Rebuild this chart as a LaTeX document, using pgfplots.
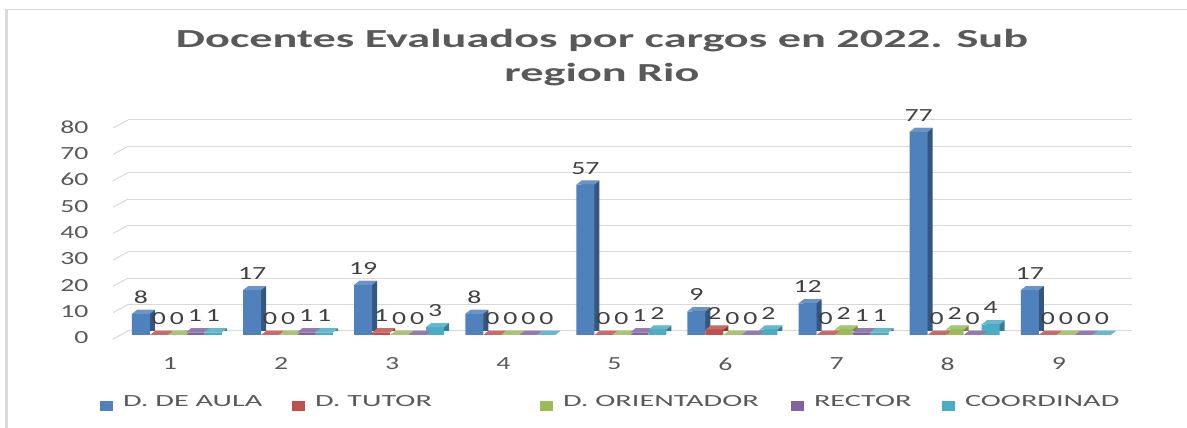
\documentclass[border=0pt]{standalone}
\usepackage{pgfplots}
\pgfplotsset{compat=1.18}
\usepackage{pgfplotstable}
\usepackage{fontspec}
\setmainfont{Carlito}[FakeStretch=1.5]
\newfontfamily\titlefont{Carlito}[FakeStretch=1.78]
\definecolor{cA}{HTML}{4F81BD}
\definecolor{cB}{HTML}{C0504D}
\definecolor{cC}{HTML}{9BBB59}
\definecolor{cD}{HTML}{8064A2}
\definecolor{cE}{HTML}{4BACC6}
\definecolor{dA}{HTML}{34567F}
\definecolor{dB}{HTML}{8C3836}
\definecolor{dC}{HTML}{71893F}
\definecolor{dD}{HTML}{5C4776}
\definecolor{dE}{HTML}{357D91}
\definecolor{txt}{HTML}{595959}
\definecolor{lab}{HTML}{404040}
\definecolor{gridc}{HTML}{D9D9D9}

\pgfdeclareplotmark{topface}{%
  \pgfpathmoveto{\pgfpoint{-9pt}{0pt}}%
  \pgfpathlineto{\pgfpoint{9pt}{0pt}}%
  \pgfpathlineto{\pgfpoint{14pt}{4pt}}%
  \pgfpathlineto{\pgfpoint{-4pt}{4pt}}%
  \pgfpathclose
  \pgfusepathqfill}

\pgfplotstableread{
x a b c d e
1 8 0 0 1 1
2 17 0 0 1 1
3 19 1 0 0 3
4 8 0 0 0 0
5 57 0 0 1 2
6 9 2 0 0 2
7 12 0 2 1 1
8 77 0 2 0 4
9 17 0 0 0 0
}\data

\begin{document}
\begin{tikzpicture}[x=1pt,y=1pt]
\useasboundingbox (0,0) rectangle (1187,428);
\fill[gridc] (5,0) rectangle (8,419);
\draw[gridc, line width=1pt] (5,418.5) -- (1187,418.5);
\node[anchor=base, font=\titlefont\fontsize{26}{30}\selectfont\bfseries, text=txt] at (602,380) {Docentes Evaluados por cargos en 2022. Sub};
\node[anchor=base, font=\titlefont\fontsize{26}{30}\selectfont\bfseries, text=txt] at (602,346) {region Rio};
\begin{axis}[
  at={(128pt,97pt)}, anchor=south west, scale only axis,
  width=1004pt, height=211pt,
  xmin=0.559, xmax=9.596, ymin=0, ymax=80,
  axis line style={draw=none},
  major tick length=0pt,
  xtick={1,...,9}, ytick={0,10,...,80},
  ymajorgrids, grid style={gridc, line width=1pt},
  /pgf/number format/assume math mode=true,
  ticklabel style={font=\fontsize{18.5}{20}\selectfont, text=txt},
  yticklabel style={xshift=-36pt, yshift=-7pt},
  xticklabel style={xshift=-7pt, yshift=-23pt},
  ybar, bar width=18pt,
  clip=false,
  every node near coord/.append style={font=\fontsize{18.5}{20}\selectfont, text=lab, yshift=7pt},
  legend columns=5,
  legend image code/.code={\fill[#1] (0pt,-5pt) rectangle (13pt,5pt);},
  legend style={draw=none, fill=none, at={(-0.031,-0.341)}, anchor=west,
    font=\titlefont\fontsize{17}{20}\selectfont, text=txt,
    nodes={inner sep=0pt},
    /tikz/every odd column/.append style={column sep=10pt}},
]
\pgfplotsinvokeforeach{0,10,...,80}{
  \draw[gridc, line width=1pt] (axis cs:0.559,#1) -- ++(-15pt,-8pt);
}
% depth (side) faces
\addplot[fill=dA, draw=none, bar shift=-31pt, yshift=0pt, forget plot] table[x=x,y=a]{\data};
\addplot[fill=dB, draw=none, bar shift=-13pt, yshift=0pt, forget plot] table[x=x,y=b]{\data};
\addplot[fill=dC, draw=none, bar shift=5pt, yshift=0pt, forget plot] table[x=x,y=c]{\data};
\addplot[fill=dD, draw=none, bar shift=23pt, yshift=0pt, forget plot] table[x=x,y=d]{\data};
\addplot[fill=dE, draw=none, bar shift=41pt, yshift=0pt, forget plot] table[x=x,y=e]{\data};
% front faces
\addplot[fill=cA, draw=none, bar shift=-36pt, yshift=-4pt, nodes near coords] table[x=x,y=a]{\data};
\addplot[fill=cB, draw=none, bar shift=-18pt, yshift=-4pt, nodes near coords] table[x=x,y=b]{\data};
\addplot[fill=cC, draw=none, bar shift=0pt, yshift=-4pt, nodes near coords] table[x=x,y=c]{\data};
\addplot[fill=cD, draw=none, bar shift=18pt, yshift=-4pt, nodes near coords] table[x=x,y=d]{\data};
\addplot[fill=cE, draw=none, bar shift=36pt, yshift=-4pt, nodes near coords] table[x=x,y=e]{\data};
% top faces
\addplot[sharp plot, only marks, mark=topface, mark options={fill=cA!85!white, draw=none}, xshift=-36pt, yshift=-4pt, forget plot] table[x=x,y=a]{\data};
\addplot[sharp plot, only marks, mark=topface, mark options={fill=cB!85!white, draw=none}, xshift=-18pt, yshift=-4pt, forget plot] table[x=x,y=b]{\data};
\addplot[sharp plot, only marks, mark=topface, mark options={fill=cC!85!white, draw=none}, xshift=0pt, yshift=-4pt, forget plot] table[x=x,y=c]{\data};
\addplot[sharp plot, only marks, mark=topface, mark options={fill=cD!85!white, draw=none}, xshift=18pt, yshift=-4pt, forget plot] table[x=x,y=d]{\data};
\addplot[sharp plot, only marks, mark=topface, mark options={fill=cE!85!white, draw=none}, xshift=36pt, yshift=-4pt, forget plot] table[x=x,y=e]{\data};
\legend{\makebox[169pt][l]{D. DE AULA},\makebox[225pt][l]{D. TUTOR},\makebox[228pt][l]{D. ORIENTADOR},\makebox[128pt][l]{RECTOR},COORDINAD}
\end{axis}
\end{tikzpicture}
\end{document}
